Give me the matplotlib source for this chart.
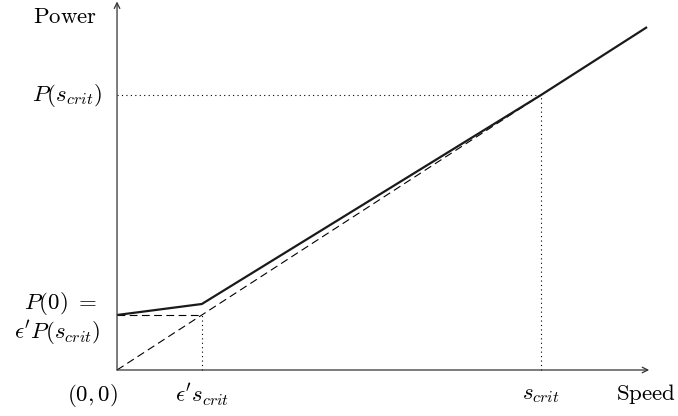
import matplotlib.pyplot as plt

plt.rcParams['mathtext.fontset'] = 'cm'
plt.rcParams['font.family'] = 'serif'
plt.rcParams['font.serif'] = ['DejaVu Serif']

# s_crit = 1, P(s_crit) = 1, eps' = 0.2
eps = 0.2
s_crit = 1.0
p_crit = 1.0
p_zero = 0.2

# power curve (solid)
curve_x = [0.0, 0.2, 1.0, 1.25]
curve_y = [0.2, 0.24, 1.0, 1.247]

# linear reference (dashed)
lin_x = [0.0, 1.0]
lin_y = [0.0, 1.0]

fig = plt.figure(figsize=(6.78, 4.16), dpi=100)
ax = fig.add_axes([0, 0, 1, 1])
ax.set_xlim(-0.276, 1.323)
ax.set_ylim(-0.1673, 1.3455)
ax.axis('off')

fs = 16.5
dash = (0, (7, 4))
dot = (0, (1, 3))

# axes with arrows
ax.annotate('', xy=(1.255, 0), xytext=(0, 0),
            arrowprops=dict(arrowstyle='->', color='#333333', lw=0.9, shrinkA=0, shrinkB=0))
ax.annotate('', xy=(0, 1.34), xytext=(0, 0),
            arrowprops=dict(arrowstyle='->', color='#333333', lw=0.9, shrinkA=0, shrinkB=0))

# guides
ax.plot([0, s_crit], [p_crit, p_crit], color='black', lw=0.8, ls=dot)
ax.plot([s_crit, s_crit], [0, p_crit], color='black', lw=0.8, ls=dot)
ax.plot([eps, eps], [0, p_zero], color='black', lw=0.8, ls=dot)
ax.plot([0, eps], [p_zero, p_zero], color='black', lw=0.8, ls=dash)
ax.plot(lin_x, lin_y, color='black', lw=0.8, ls=dash)

ax.plot(curve_x, curve_y, color='#1a1a1a', lw=1.6, solid_capstyle='butt')

# labels
ax.text(-0.123, 1.284, r'$\mathrm{Power}$', fontsize=fs, ha='center', va='center')
ax.text(1.177, -0.088, r'$\mathrm{Speed}$', fontsize=fs, ha='left', va='center')
ax.text(-0.035, p_crit, r'$P(s_{crit})$', fontsize=fs, ha='right', va='center')
ax.text(-0.047, 0.24, r'$P(0)\ =$', fontsize=fs, ha='right', va='center')
ax.text(-0.04, 0.135, r"$\epsilon' P(s_{crit})$", fontsize=fs, ha='right', va='center')
ax.text(-0.059, -0.091, r'$(0,0)$', fontsize=fs, ha='center', va='center')
ax.text(eps, -0.091, r"$\epsilon' s_{crit}$", fontsize=fs, ha='center', va='center')
ax.text(s_crit, -0.088, r'$s_{crit}$', fontsize=fs, ha='center', va='center')

fig.savefig('out.png', dpi=100)
